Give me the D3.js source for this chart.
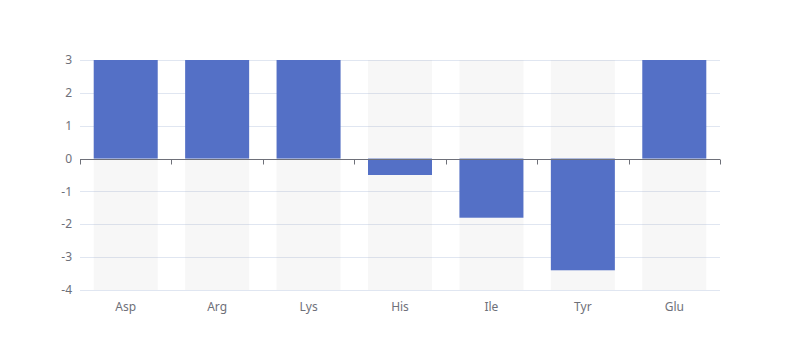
<!DOCTYPE html>
<html><head><meta charset="utf-8">
<script src="https://cdn.jsdelivr.net/npm/d3@7"></script>
<style>body{margin:0;background:#fff}svg{display:block}text{font-family:"Microsoft YaHei","Noto Sans",sans-serif}</style>
</head><body><svg id="c" width="800" height="360"></svg>
<script>
const categories = ["Asp","Arg","Lys","His","Ile","Tyr","Glu"];
const values = [4.5, 5.2, 3.8, -0.5, -1.8, -3.4, 4.9];
const yTicks = [-4,-3,-2,-1,0,1,2,3];

const W=800,H=360,m={l:80,r:80,t:60,b:70};
const svg=d3.select("#c");
const x=d3.scaleBand().domain(categories).range([m.l,W-m.r]).paddingInner(0).paddingOuter(0);
const y=d3.scaleLinear().domain([-4,3]).range([H-m.b,m.t]);
const bw=x.bandwidth()*0.7, off=(x.bandwidth()-bw)/2;

// split lines
svg.append("g").selectAll("line").data(yTicks).join("line")
  .attr("x1",m.l).attr("x2",W-m.r).attr("y1",d=>Math.round(y(d))+0.5).attr("y2",d=>Math.round(y(d))+0.5)
  .attr("stroke","#E0E6F1");
// background bars
svg.append("g").selectAll("rect").data(categories).join("rect")
  .attr("x",d=>x(d)+off).attr("width",bw).attr("y",m.t).attr("height",H-m.b-m.t)
  .attr("fill","rgba(180,180,180,0.1)");
// bars (clipped)
svg.append("defs").append("clipPath").attr("id","cl").append("rect")
  .attr("x",m.l).attr("y",m.t).attr("width",W-m.l-m.r).attr("height",H-m.t-m.b);
svg.append("g").attr("clip-path","url(#cl)").selectAll("rect").data(values).join("rect")
  .attr("x",(d,i)=>x(categories[i])+off).attr("width",bw)
  .attr("y",d=>y(Math.max(0,d))).attr("height",d=>Math.abs(y(d)-y(0)))
  .attr("fill","#5470c6");
// y labels
svg.append("g").selectAll("text").data(yTicks).join("text")
  .attr("x",m.l-8).attr("y",d=>y(d)).attr("dy","0.35em").attr("text-anchor","end")
  .attr("font-size",12).attr("fill","#6E7079").text(d=>d);
// x axis line at zero
const y0=Math.round(y(0))+0.5;
const ax=svg.append("g");
ax.append("line").attr("x1",m.l).attr("x2",W-m.r).attr("y1",y0).attr("y2",y0).attr("stroke","#6E7079");
const tickPos=categories.map(c=>x(c)).concat([x(categories[categories.length-1])+x.bandwidth()]);
ax.selectAll("line.t").data(tickPos).join("line").attr("class","t")
  .attr("x1",d=>Math.round(d)+0.5).attr("x2",d=>Math.round(d)+0.5).attr("y1",y0).attr("y2",y0+5).attr("stroke","#6E7079");
// x labels at bottom
svg.append("g").selectAll("text").data(categories).join("text")
  .attr("x",d=>x(d)+x.bandwidth()/2).attr("y",H-m.b+12).attr("dy","0.71em").attr("text-anchor","middle")
  .attr("font-size",12).attr("fill","#6E7079").text(d=>d);
</script></body></html>
